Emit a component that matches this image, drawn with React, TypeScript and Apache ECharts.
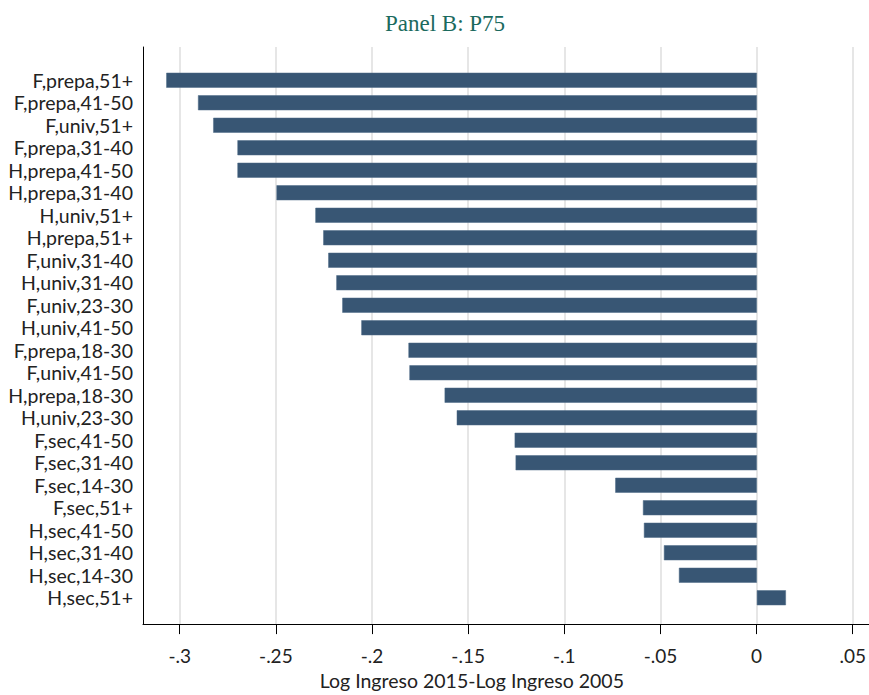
import React, { useEffect, useRef } from "react";
import * as echarts from "echarts";

const categories = [
  "F,prepa,51+", "F,prepa,41-50", "F,univ,51+", "F,prepa,31-40", "H,prepa,41-50",
  "H,prepa,31-40", "H,univ,51+", "H,prepa,51+", "F,univ,31-40", "H,univ,31-40",
  "F,univ,23-30", "H,univ,41-50", "F,prepa,18-30", "F,univ,41-50", "H,prepa,18-30",
  "H,univ,23-30", "F,sec,41-50", "F,sec,31-40", "F,sec,14-30", "F,sec,51+",
  "H,sec,41-50", "H,sec,31-40", "H,sec,14-30", "H,sec,51+",
];
const values = [
  -0.307, -0.2905, -0.2826, -0.270, -0.270,
  -0.2497, -0.2295, -0.2254, -0.2228, -0.2186,
  -0.2155, -0.2056, -0.1811, -0.1806, -0.1623,
  -0.156, -0.1259, -0.1254, -0.0736, -0.0592,
  -0.0587, -0.0483, -0.0405, 0.0151,
];
const tickValues = [-0.3, -0.25, -0.2, -0.15, -0.1, -0.05, 0, 0.05];
const tickLabels = ["-.3", "-.25", "-.2", "-.15", "-.1", "-.05", "0", ".05"];

const X_MIN = -0.3191;
const X_MAX = 0.0583;

export default function App() {
  const ref = useRef<HTMLDivElement>(null);
  useEffect(() => {
    if (!ref.current) return;
    const chart = echarts.init(ref.current, null, { renderer: "svg" });
    const labelFor = (v: number) => {
      const i = tickValues.findIndex((t) => Math.abs(t - v) < 1e-9);
      return i >= 0 ? tickLabels[i] : "";
    };
    chart.setOption({
      animation: false,
      backgroundColor: "#ffffff",
      title: {
        text: "Panel B: P75",
        left: 440,
        textAlign: "center",
        top: 7,
        textStyle: {
          fontFamily: "Liberation Serif",
          fontWeight: "normal",
          fontSize: 23,
          color: "#1b6a5e",
        },
      },
      grid: [
        { left: 143, right: 0, top: 47, bottom: 63 },
        { left: 143, right: 0, top: 69, bottom: 86 },
      ],
      xAxis: [
        {
          gridIndex: 0,
          type: "value",
          min: X_MIN,
          max: X_MAX,
          axisLine: { show: true, onZero: false, lineStyle: { color: "#000", width: 1 } },
          axisTick: { show: true, length: 10, lineStyle: { color: "#000" }, customValues: tickValues },
          axisLabel: {
            show: true,
            customValues: tickValues,
            formatter: (v: number) => labelFor(v),
            fontFamily: "Lato",
            fontSize: 19,
            color: "#222",
            margin: 22,
          },
          splitLine: { show: false },
          name: "Log Ingreso 2015-Log Ingreso 2005",
          nameLocation: "middle",
          nameGap: 45,
          nameTextStyle: {
            fontFamily: "Lato",
            fontSize: 19.5,
            color: "#222",
            padding: [0, 68, 0, 0],
          },
        },
        {
          gridIndex: 1,
          type: "value",
          min: X_MIN,
          max: X_MAX,
          show: false,
          splitLine: { show: false },
        },
      ],
      yAxis: [
        {
          gridIndex: 0,
          type: "value",
          min: 0,
          max: 1,
          axisLine: { show: true, onZero: false, lineStyle: { color: "#000", width: 1 } },
          axisTick: { show: false },
          axisLabel: { show: false },
          splitLine: { show: false },
        },
        {
          gridIndex: 1,
          type: "category",
          data: categories,
          inverse: true,
          axisLine: { show: false },
          axisTick: { show: false },
          splitLine: { show: false },
          axisLabel: {
            interval: 0,
            fontFamily: "Lato",
            fontSize: 19.5,
            color: "#222",
            margin: 10,
          },
        },
      ],
      series: [
        {
          type: "line",
          xAxisIndex: 0,
          yAxisIndex: 0,
          z: 1,
          data: [],
          markLine: {
            silent: true,
            symbol: "none",
            z: 1,
            label: { show: false },
            lineStyle: { color: "#e6e6e6", width: 2, type: "solid" },
            data: tickValues.map((v) => ({ xAxis: v })),
          },
        },
        {
          type: "bar",
          xAxisIndex: 1,
          yAxisIndex: 1,
          z: 5,
          data: values,
          barWidth: 15,
          itemStyle: { color: "#385674", borderColor: "#4d6a86", borderWidth: 0.5 },
        },
      ],
    });
    return () => chart.dispose();
  }, []);
  return (
    <div
      ref={ref}
      style={{ position: "absolute", left: 0, top: 0, width: 869, height: 695 }}
    />
  );
}
